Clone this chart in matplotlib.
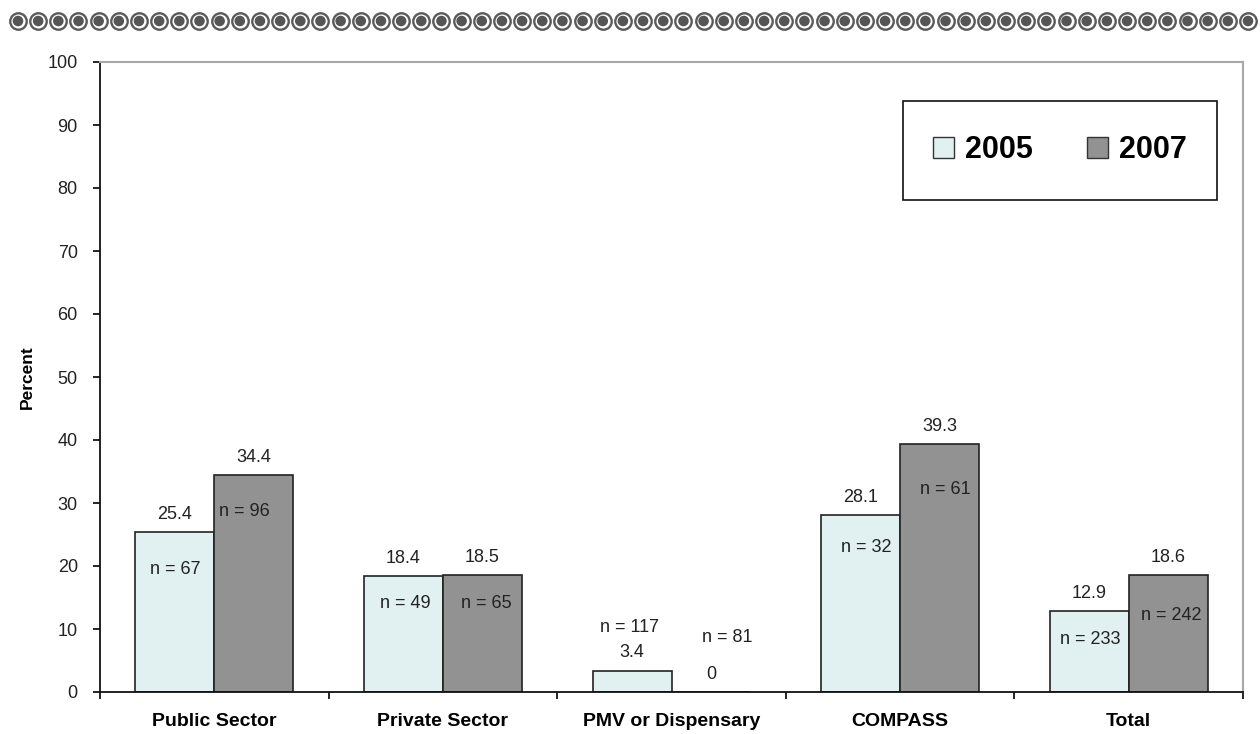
import numpy as np
import matplotlib
matplotlib.use("Agg")
import matplotlib.pyplot as plt
from matplotlib.patches import Rectangle, Patch

plt.rcParams['font.family'] = ['Liberation Sans', 'DejaVu Sans']

categories = ["Public Sector", "Private Sector", "PMV or Dispensary", "COMPASS", "Total"]
years = ["2005", "2007"]
v2005 = [25.4, 18.4, 3.4, 28.1, 12.9]
v2007 = [34.4, 18.5, 0, 39.3, 18.6]
n2005 = [67, 49, 117, 32, 233]
n2007 = [96, 65, 81, 61, 242]

# layout of the sample-size labels (data y, x offset in category units)
n_y_2005 = [19.4, 14.1, 10.3, 23.0, 8.3]
n_y_2007 = [28.6, 14.1, 8.6, 32.2, 12.1]
n_dx_2005 = [0.002, 0.009, -0.013, 0.026, 0.004]
n_dx_2007 = [-0.042, 0.018, 0.07, 0.026, 0.013]

c2005 = "#E1F1F1"
c2007 = "#929292"

fig = plt.figure(figsize=(12.6, 7.34), dpi=100)
ax = fig.add_axes([100/1260, 42/734, 1143/1260, 630/734])

x = np.arange(len(categories))
bw = 0.345
ax.bar(x - bw/2, v2005, bw, color=c2005, edgecolor="#222222", linewidth=1.2, zorder=2)
ax.bar(x + bw/2, v2007, bw, color=c2007, edgecolor="#222222", linewidth=1.2, zorder=2)

lab_kw = dict(ha="center", va="center", fontsize=13, color="#222222", zorder=3)
for i in range(len(categories)):
    ax.text(x[i] - bw/2, v2005[i] + 2.8, f"{v2005[i]:g}", **lab_kw)
    ax.text(x[i] + bw/2, v2007[i] + 2.8, f"{v2007[i]:g}", **lab_kw)
    ax.text(x[i] - bw/2 + n_dx_2005[i], n_y_2005[i], f"n = {n2005[i]}", **lab_kw)
    ax.text(x[i] + bw/2 + n_dx_2007[i], n_y_2007[i], f"n = {n2007[i]}", **lab_kw)

ax.set_xlim(-0.5, len(categories) - 0.5)
ax.set_ylim(0, 100)
ax.set_yticks(np.arange(0, 101, 10))
ax.tick_params(axis="y", length=5, width=1.2, pad=11, labelsize=13, labelcolor="#222222")
ax.set_xticks(x)
ax.set_xticklabels(categories, fontsize=14, fontweight="bold")
ax.tick_params(axis="x", which="major", length=0, pad=15)
ax.set_xticks(np.arange(-0.5, len(categories), 1.0), minor=True)
ax.tick_params(axis="x", which="minor", length=5, width=1.2, direction="out")
ax.set_ylabel("Percent", fontsize=12.5, fontweight="bold", labelpad=9)

for s in ["left", "bottom"]:
    ax.spines[s].set_color("#111111")
    ax.spines[s].set_linewidth(1.3)
for s in ["top", "right"]:
    ax.spines[s].set_color("#A8A8A8")
    ax.spines[s].set_linewidth(1.5)

# legend box
lx0, ly0 = (903 - 100) / 1143, (692 - 200) / 630
lw_, lh_ = (1217 - 903) / 1143, (200 - 101) / 630
ax.add_patch(Rectangle((lx0, ly0), lw_, lh_, transform=ax.transAxes, facecolor="white",
                       edgecolor="#111111", linewidth=1.2, zorder=4))
handles = [Patch(facecolor=c2005, edgecolor="#333333", linewidth=1.0),
           Patch(facecolor=c2007, edgecolor="#333333", linewidth=1.0)]
leg = ax.legend(handles, years, loc="center", bbox_to_anchor=(lx0 + lw_/2, ly0 + lh_/2),
                ncol=2, frameon=False, prop=dict(size=22, weight="bold"),
                handlelength=0.69, handleheight=0.69, handletextpad=0.36,
                columnspacing=1.75)
leg.set_zorder(5)

# decorative top border
deco = fig.add_axes([0, 0, 1, 1], zorder=-1)
deco.set_xlim(0, 1260)
deco.set_ylim(734, 0)
deco.axis("off")
cx = np.linspace(18, 1248, 62)
cy = np.full_like(cx, 21)
deco.scatter(cx, cy, s=140, facecolor="white", edgecolor="#5A5A5A", linewidths=1.7)
deco.scatter(cx, cy, s=58, facecolor="#555555", edgecolor="none")

fig.savefig("out.png", dpi=100)
